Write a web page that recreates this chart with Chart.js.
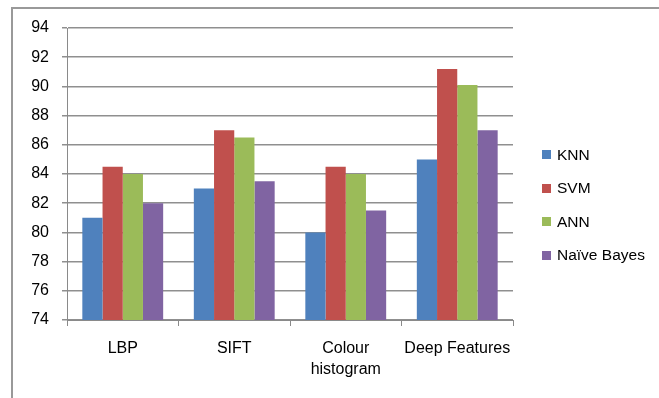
<!DOCTYPE html>
<html>
<head>
<meta charset="utf-8">
<script src="https://cdn.jsdelivr.net/npm/chart.js@4/dist/chart.umd.min.js"></script>
<style>
  html, body { margin: 0; padding: 0; background: #fff; }
  #wrap { position: relative; width: 659px; height: 398px; overflow: hidden; font-family: "Liberation Sans", Arial, sans-serif; }
  #frame { position: absolute; left: 11px; top: 7px; width: 700px; height: 450px; border-top: 2px solid #999; border-left: 2px solid #999; }
  #chart { position: absolute; left: 0; top: 0; }
  #legend { position: absolute; left: 542px; top: 138px; font-size: 15.5px; color: #000; }
  #legend .item { height: 33.5px; display: flex; align-items: center; }
  #legend .sw { width: 9px; height: 9px; margin-right: 6px; }
</style>
</head>
<body>
<div id="wrap">
  <div id="frame"></div>
  <canvas id="chart" width="659" height="398"></canvas>
  <div id="legend"></div>
</div>
<script>
/* ─── Data ─── */
const categories = ['LBP', 'SIFT', ['Colour', 'histogram'], 'Deep Features'];
const seriesNames = ['KNN', 'SVM', 'ANN', 'Naïve Bayes'];
const knn = [81, 83, 80, 85];
const svm = [84.5, 87, 84.5, 91.2];
const ann = [84, 86.5, 84, 90.1];
const naiveBayes = [82, 83.5, 81.5, 87];
const yTicks = [74, 76, 78, 80, 82, 84, 86, 88, 90, 92, 94];

const colors = ['#4F81BD', '#C0504D', '#9BBB59', '#8064A2'];
const seriesValues = [knn, svm, ann, naiveBayes];

/* ─── Legend ─── */
const legendEl = document.getElementById('legend');
seriesNames.forEach((name, i) => {
  const row = document.createElement('div');
  row.className = 'item';
  row.innerHTML = '<span class="sw" style="background:' + colors[i] + '"></span><span>' + name + '</span>';
  legendEl.appendChild(row);
});

/* ─── Chart ─── */
const font = { family: '"Liberation Sans", Arial, sans-serif', size: 16 };

new Chart(document.getElementById('chart'), {
  type: 'bar',
  data: {
    labels: categories,
    datasets: seriesNames.map((name, i) => ({
      label: name,
      data: seriesValues[i],
      backgroundColor: colors[i],
      borderWidth: 0,
      categoryPercentage: 0.725,
      barPercentage: 1
    }))
  },
  options: {
    responsive: false,
    animation: false,
    layout: { padding: { top: 28, left: 0, right: 146, bottom: 0 } },
    plugins: { legend: { display: false }, tooltip: { enabled: false } },
    scales: {
      x: {
        grid: { display: true, drawOnChartArea: false, offset: true, color: '#8a8a8a', tickLength: 6, lineWidth: 1 },
        border: { display: true, color: '#8a8a8a', width: 1 },
        ticks: { color: '#000', font: Object.assign({ lineHeight: 1.3 }, font), padding: 12, maxRotation: 0, autoSkip: false },
        afterFit: s => { s.height = 78; }
      },
      y: {
        min: 74,
        max: 94,
        afterBuildTicks: s => { s.ticks = yTicks.map(v => ({ value: v })); },
        grid: { color: '#8f8f8f', lineWidth: 1.5, tickLength: 5 },
        border: { display: true, color: '#8a8a8a', width: 1 },
        ticks: { color: '#000', font: font, padding: 13 },
        afterFit: s => { s.width = 67; }
      }
    }
  }
});
</script>
</body>
</html>
